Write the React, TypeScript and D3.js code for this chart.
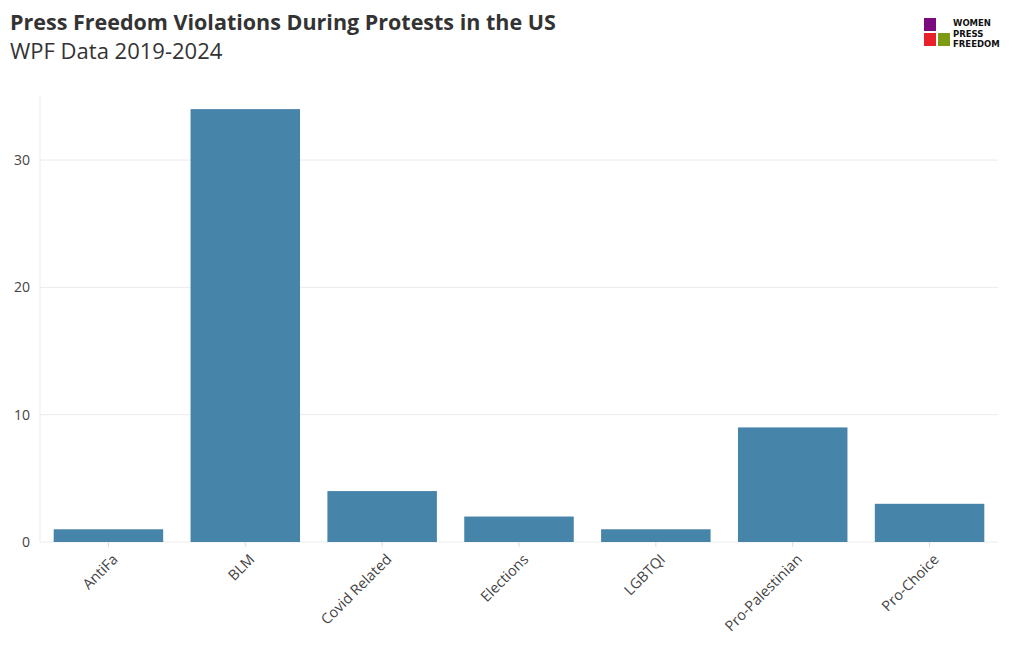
import React from "react";
import * as d3 from "d3";

const categories = ["AntiFa", "BLM", "Covid Related", "Elections", "LGBTQI", "Pro-Palestinian", "Pro-Choice"];
const counts = [1, 34, 4, 2, 1, 9, 3];
const yTicks = [0, 10, 20, 30];

const W = 1020, H = 650;
const M = { left: 40, right: 998, top: 96, bottom: 542 };
const FONT = "'Open Sans', 'Noto Sans', sans-serif";

export default function App() {
  const x = d3.scaleBand<string>().domain(categories).range([M.left, M.right]).paddingInner(0.2).paddingOuter(0.1);
  const y = d3.scaleLinear().domain([0, 35.03]).range([M.bottom, M.top]);
  return (
    <svg width={W} height={H} style={{ position: "absolute", left: 0, top: 0, background: "#fff" }} fontFamily={FONT}>
      <text x={10} y={30} fontSize={21.5} fontWeight="bold" fill="#333">Press Freedom Violations During Protests in the US</text>
      <text x={10} y={59} fontSize={22} fill="#333">WPF Data 2019-2024</text>
      {/* logo */}
      <g>
        <rect x={924} y={18} width={12} height={13} fill="#7b0a7e" />
        <rect x={924} y={33} width={12} height={13} fill="#e8202a" />
        <rect x={938} y={33} width={12} height={13} fill="#7c9a12" />
        <text x={953} y={26} fontSize={8.5} fontWeight="bold" fill="#111" fontFamily="'DejaVu Sans', sans-serif">WOMEN</text>
        <text x={953} y={37} fontSize={8.5} fontWeight="bold" fill="#111" fontFamily="'DejaVu Sans', sans-serif">PRESS</text>
        <text x={953} y={47} fontSize={8.5} fontWeight="bold" fill="#111" fontFamily="'DejaVu Sans', sans-serif">FREEDOM</text>
      </g>
      {/* grid */}
      {yTicks.map(t => (
        <g key={t}>
          <line x1={M.left} x2={M.right} y1={y(t)} y2={y(t)} stroke="#ebebeb" strokeWidth={1} />
          <text x={30} y={y(t)} dy="0.35em" textAnchor="end" fontSize={14} fill="#444">{t}</text>
        </g>
      ))}
      <line x1={M.left} x2={M.left} y1={M.top} y2={M.bottom} stroke="#ebebeb" />
      {categories.map((c, i) => (
        <rect key={c} x={x(c)} y={y(counts[i])} width={x.bandwidth()} height={y(0) - y(counts[i])} fill="#4784a9" />
      ))}
      {categories.map(c => {
        const cx = (x(c) as number) + x.bandwidth() / 2;
        return (
          <g key={c} transform={`translate(${cx},${M.bottom})`}>
            <line y1={0} y2={5} stroke="#ddd" />
            <text transform="translate(3,11) rotate(-45)" textAnchor="end" dy="0.71em" fontSize={14.5} fill="#444">{c}</text>
          </g>
        );
      })}
    </svg>
  );
}
